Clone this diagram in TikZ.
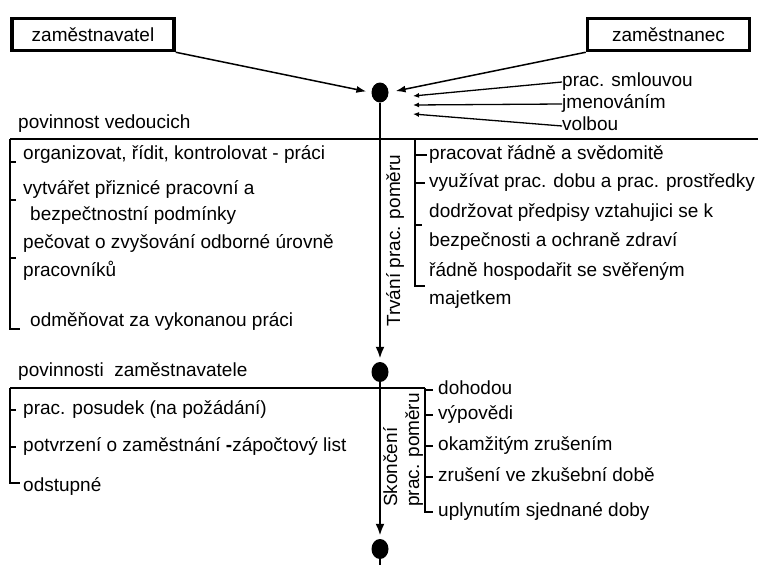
\documentclass[tikz,border=0pt]{standalone}
\usepackage{fontspec}
\setmainfont{Liberation Sans}
\usetikzlibrary{arrows.meta,shapes.geometric}
\tikzset{>={Latex[length=12pt,width=9pt]}}

\begin{document}
\begin{tikzpicture}[x=1pt,y=-1pt,
    every node/.style={font=\fontsize{19}{22}\selectfont},
    txt/.style={anchor=west, inner sep=0pt, text height=13pt, text depth=4pt},
    party/.style={draw, line width=3.5pt, minimum width=162pt, minimum height=32pt, inner sep=0pt},
    dot/.style={ellipse, fill=black, minimum width=17pt, minimum height=20pt, inner sep=0pt},
    rule/.style={line width=2.5pt},
    brk/.style={line width=2pt}]
    \useasboundingbox (0,0) rectangle (758,565);

    % parties and the start of the relation
    \node[party] at (93,34.5) (emp) {zaměstnavatel};
    \node[party] at (668.5,34.5) (wrk) {zaměstnanec};
    \node[dot] at (380,92.5) (d1) {};
    \node[dot] at (380,372) (d2) {};
    \node[dot] at (380,549) (d3) {};

    \draw[->, line width=1.5pt, >={Latex[length=10pt,width=7pt]}, shorten >=5pt] (emp.south east) -- (d1.west);
    \draw[->, line width=1.5pt, >={Latex[length=10pt,width=7pt]}, shorten >=7pt] (wrk.south west) -- (d1.east);

    \node[txt] at (562,82) (smlouva) {prac. smlouvou};
    \node[txt] at (562,104) (jmen) {jmenováním};
    \node[txt] at (562,126) (volba) {volbou};
    \coordinate (t1) at (413,96);
    \coordinate (t2) at (413,105);
    \coordinate (t3) at (413,114);
    \draw[->, line width=1.3pt, >={Latex[length=6pt,width=5pt]}] (smlouva.west) -- (t1);
    \draw[->, line width=1.3pt, >={Latex[length=6pt,width=5pt]}] (jmen.west) -- (t2);
    \draw[->, line width=1.3pt, >={Latex[length=6pt,width=5pt]}] (volba.west) -- (t3);

    % main time line
    \draw[rule, ->, shorten >=3pt] (d1) -- (d2);
    \draw[rule, ->, shorten >=3pt] (d2) -- (d3);
    \draw[rule] (d3) -- (380,565);

    % duration of the relation
    \node[txt] at (18,124) (hv) {povinnost vedoucich};
    \draw[rule] (10,139) -- (758,139);
    \draw[brk] (10,139) -- (10,329) -- (20,329);
    \foreach \y in {162,200,258}
        \draw[brk] (10,\y) -- (16,\y);
    \node[txt] at (23,155) (v1) {organizovat, řídit, kontrolovat - práci};
    \node[txt] at (23,190) (v2) {vytvářet přiznicé pracovní a};
    \node[txt] at (30,216) (v2b) {bezpečtnostní podmínky};
    \node[txt] at (23,244) (v3) {pečovat o zvyšování odborné úrovně};
    \node[txt] at (23,272) (v3b) {pracovníků};
    \node[txt] at (30,322) (v4) {odměňovat za vykonanou práci};

    \node[anchor=west, rotate=90, inner sep=0pt] at (395,327) (trv) {Trvání prac. poměru};
    \draw[brk] (415,139) -- (415,286) -- (425,286);
    \draw[brk] (415,155) -- (427,155);
    \draw[brk] (415,183) -- (425,183);
    \draw[brk] (415,225) -- (422,225);
    \node[txt] at (429,155) (z1) {pracovat řádně a svědomitě};
    \node[txt] at (429,183) (z2) {využívat prac. dobu a prac. prostředky};
    \node[txt] at (429,213) (z3) {dodržovat předpisy vztahujici se k};
    \node[txt] at (429,242) (z3b) {bezpečnosti a ochraně zdraví};
    \node[txt] at (429,272) (z4) {řádně hospodařit se svěřeným};
    \node[txt] at (429,300) (z4b) {majetkem};

    % end of the relation
    \node[txt] at (18,372) (hz) {povinnosti~ zaměstnavatele};
    \draw[rule] (10,388) -- (425,388);
    \draw[brk] (10,388) -- (10,483) -- (20,483);
    \foreach \y in {410,447}
        \draw[brk] (10,\y) -- (16,\y);
    \node[txt] at (23,410) (p1) {prac. posudek (na požádání)};
    \node[txt] at (23,447) (p2) {potvrzení o zaměstnání \textbf{-}zápočtový list};
    \node[txt] at (23,487) (p3) {odstupné};

    \node[anchor=west, rotate=90, inner sep=0pt, align=left] at (403,507) (skn) {Skončení\\prac. poměru};
    \draw[brk] (425,388) -- (425,512) -- (433,512);
    \foreach \y in {390,415,446,477}
        \draw[brk] (425,\y) -- (433,\y);
    \node[txt] at (438,390) (k1) {dohodou};
    \node[txt] at (438,415) (k2) {výpovědi};
    \node[txt] at (438,446) (k3) {okamžitým zrušením};
    \node[txt] at (438,477) (k4) {zrušení ve zkušební době};
    \node[txt] at (438,512) (k5) {uplynutím sjednané doby};

\end{tikzpicture}
\end{document}
